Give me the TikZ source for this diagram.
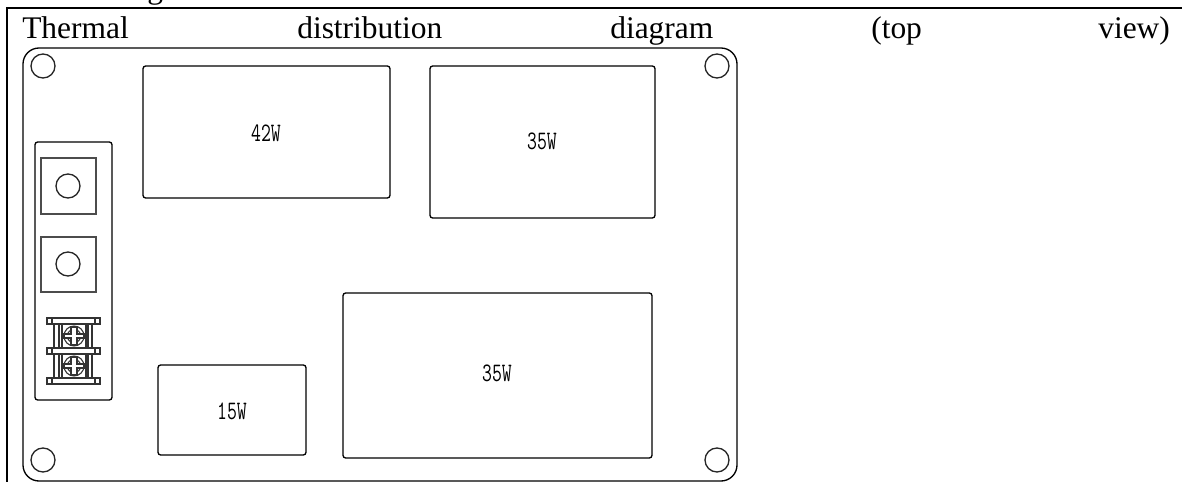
\documentclass[tikz,border=0pt]{standalone}
\usepackage{fontspec}
\setmainfont{Liberation Serif}
\setmonofont[FakeStretch=0.72]{Latin Modern Mono}
\tikzset{
  x=0.75pt,y=-0.75pt,
  frame/.style={line width=1.5pt},
  plate/.style={draw,line width=1pt,rounded corners=12pt},
  load/.style={draw,line width=1pt,rounded corners=2pt},
  hole/.style={draw=black!85,circle,line width=1pt,inner sep=0pt,minimum size=18pt},
  pad/.style={draw=black!70,line width=1.1pt},
  word/.style={anchor=base west,inner sep=0pt,font=\fontsize{23.6}{28}\selectfont},
  watt/.style={inner sep=0pt,font=\ttfamily\fontsize{20}{22}\selectfont},
  term/.style={draw=black!80,line width=0.9pt},
  screw/.style={draw=black!80,circle,line width=0.8pt,inner sep=0pt},
}
\begin{document}
\begin{tikzpicture}
\useasboundingbox (0,0) rectangle (1182,482);
%the page frame and the heading
\node[word] (wG) at (147,-2) {g};
\draw[frame] (1182,8) -- (7,8) -- (7,482);
\node[word] (w1) at (22,38) {Thermal};
\node[word] (w2) at (297,38) {distribution};
\node[word] (w3) at (610,38) {diagram};
\node[word] (w4) at (871,38) {(top};
\node[word] (w5) at (1098,38) {view)};
%the plate
\draw[plate] (23,48) rectangle (737,481);
\node[hole] (h1) at (43,66) {};
\node[hole] (h2) at (717,66) {};
\node[hole] (h3) at (43,460) {};
\node[hole] (h4) at (717,460) {};
%the loads
\draw[load] (143,66) rectangle (390,198);
\node[watt] (l1) at (266,133) {42W};
\draw[load] (430,66) rectangle (655,218);
\node[watt] (l2) at (542,141) {35W};
\draw[load] (343,293) rectangle (652,458);
\node[watt] (l3) at (497,373) {35W};
\draw[load] (158,365) rectangle (306,455);
\node[watt] (l4) at (232,411) {15W};
%the connector block
\draw[load] (35,142) rectangle (112,400);
\draw[pad] (41,158) rectangle (96,214);
\draw[pad] (41,237) rectangle (96,292);
\node[hole] (c1) at (68,186) {};
\node[hole] (c2) at (68,264) {};
%the terminal
\foreach \ty in {318,348,378}{
  \draw[term,fill=white] (47,\ty) rectangle (100,\ty+6);
  \draw[term] (52,\ty) -- (52,\ty+6) (95,\ty) -- (95,\ty+6);
}
\foreach \ty/\tn in {324/t1,354/t2}{
  \draw[term] (54,\ty) -- (54,\ty+24) (59,\ty) -- (59,\ty+24) (62,\ty) -- (62,\ty+24);
  \draw[term] (86,\ty) -- (86,\ty+24) (88,\ty) -- (88,\ty+24) (92,\ty) -- (92,\ty+24);
  \node[screw,minimum size=15pt] (\tn) at (74,\ty+12) {};
  \node[screw,minimum size=10pt] (\tn i) at (74,\ty+12) {};
  \draw[term,fill=white] (64,\ty+10) -- (71,\ty+10) -- (71,\ty+3) -- (77,\ty+3) -- (77,\ty+10) -- (84,\ty+10)
    -- (84,\ty+14) -- (77,\ty+14) -- (77,\ty+21) -- (71,\ty+21) -- (71,\ty+14) -- (64,\ty+14) -- cycle;
}
\end{tikzpicture}
\end{document}
